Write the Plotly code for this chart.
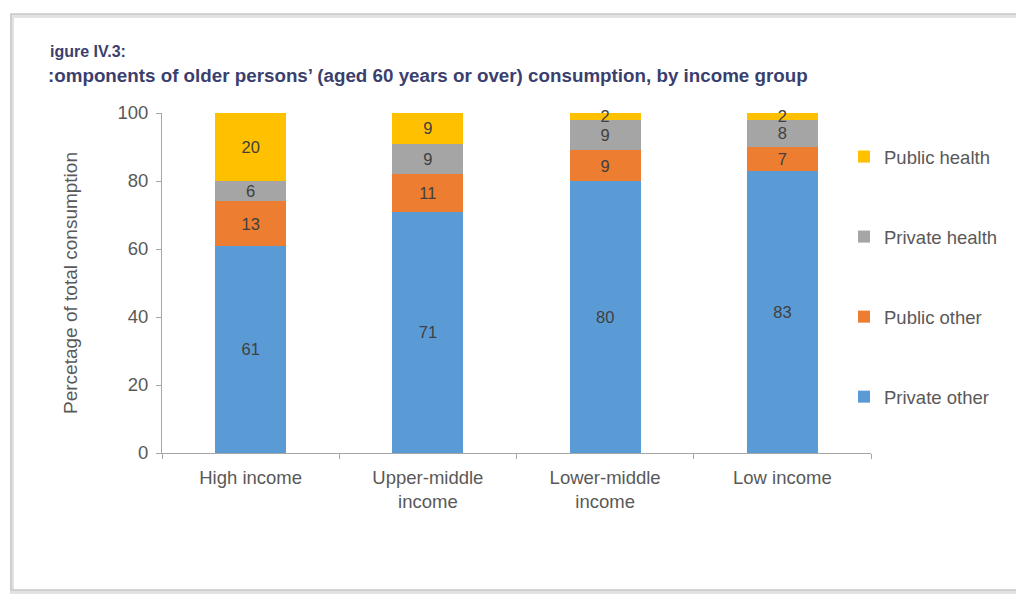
import plotly.graph_objects as go

categories = ["High income", "Upper-middle<br>income", "Lower-middle<br>income", "Low income"]
private_other = [61, 71, 80, 83]
public_other = [13, 11, 9, 7]
private_health = [6, 9, 9, 8]
public_health = [20, 9, 2, 2]

series = [
    ("Private other", private_other, "#5B9BD5", 4),
    ("Public other", public_other, "#ED7D31", 3),
    ("Private health", private_health, "#A5A5A5", 2),
    ("Public health", public_health, "#FFC000", 1),
]

OFF = 8  # page body margin
W, H = 1024 - OFF, 594 - OFF
L, T = 162 - OFF, 113 - OFF
R = W - (871 - OFF)
B = H - (453 - OFF)
pw, ph = W - L - R, H - T - B

def px(x):
    return (x - OFF - L) / pw

def py(y):
    return (H - B - (y - OFF)) / ph

FONT = "Liberation Sans, Arial"

fig = go.Figure()
for name, vals, col, rank in series:
    fig.add_trace(go.Bar(
        x=categories, y=vals, name=name, marker_color=col,
        marker_line_width=0,
        text=[str(v) for v in vals], textposition="inside", textangle=0,
        insidetextanchor="middle", constraintext="none", cliponaxis=False,
        textfont=dict(family=FONT, size=16.5, color="#404040"),
        legendgroup=name, legendrank=rank, hoverinfo="skip",
    ))

fig.update_layout(
    barmode="stack", bargap=0.6,
    width=W, height=H,
    margin=dict(l=L, r=R, t=T, b=B),
    paper_bgcolor="white", plot_bgcolor="white",
    font=dict(family=FONT, size=18.5, color="#595959"),
    showlegend=True,
    legend=dict(x=px(844), y=py(138), xanchor="left", yanchor="top",
                traceorder="grouped", tracegroupgap=53,
                font=dict(size=18.5, color="#595959")),
)
fig.update_yaxes(range=[0, 100], tickvals=[0, 20, 40, 60, 80, 100],
                 showline=True, linecolor="#A6A6A6", linewidth=1,
                 ticks="outside", ticklen=5, tickcolor="#A6A6A6",
                 ticklabelstandoff=4,
                 showgrid=False, zeroline=False,
                 tickfont=dict(size=18.5, color="#595959"),
                 title=dict(text="Percetage of total consumption", standoff=34,
                            font=dict(size=19, color="#595959")))
fig.update_xaxes(showline=True, linecolor="#A6A6A6", linewidth=1,
                 ticks="outside", tickson="boundaries", ticklen=5, tickcolor="#A6A6A6",
                 ticklabelstandoff=8,
                 showgrid=False,
                 tickfont=dict(size=18.5, color="#595959"))

# frame with shadow
fig.add_shape(type="rect", xref="paper", yref="paper",
              x0=px(12), x1=px(1040), y0=py(592), y1=py(16),
              line=dict(color="#E2E2E2", width=4), layer="below")
fig.add_shape(type="rect", xref="paper", yref="paper",
              x0=px(11), x1=px(1040), y0=py(590), y1=py(14),
              line=dict(color="#C8C8C8", width=1.5), layer="below")

title_col = "#3B3F6E"
fig.add_annotation(xref="paper", yref="paper", x=px(48), y=py(52), xanchor="left",
                   yanchor="middle", showarrow=False, text="<b>igure IV.3:</b>",
                   font=dict(size=16, color=title_col, family=FONT))
fig.add_annotation(xref="paper", yref="paper", x=px(46), y=py(76), xanchor="left",
                   yanchor="middle", showarrow=False,
                   text="<b>:omponents of older persons’ (aged 60 years or over) consumption, by income group</b>",
                   font=dict(size=18.8, color=title_col, family=FONT))

fig.write_html("out.html")
